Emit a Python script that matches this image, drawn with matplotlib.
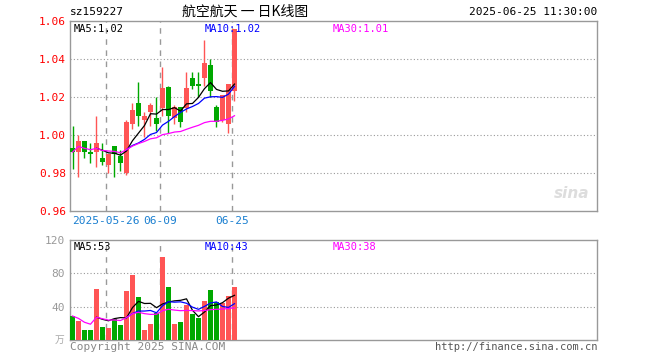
import matplotlib
import matplotlib.pyplot as plt
import numpy as np
import pandas as pd

matplotlib.use("Agg")

# daily bars, sz159227
opens = [0.993, 0.991, 0.997, 0.991, 0.991, 0.988, 0.984, 0.994, 0.989, 0.980,
         1.006, 1.017, 1.008, 1.012, 1.009, 1.014, 1.025, 1.009, 1.015, 1.014,
         1.030, 1.027, 1.030, 1.037, 1.015, 1.008, 1.006, 1.023]
highs = [1.005, 1.000, 0.997, 0.996, 1.010, 0.996, 0.990, 0.994, 0.992, 1.008,
         1.017, 1.028, 1.012, 1.017, 1.020, 1.036, 1.026, 1.016, 1.015, 1.033,
         1.033, 1.033, 1.050, 1.040, 1.016, 1.021, 1.027, 1.056]
lows = [0.982, 0.978, 0.988, 0.985, 0.983, 0.984, 0.980, 0.978, 0.981, 0.979,
        1.003, 1.005, 0.999, 1.005, 1.002, 1.010, 1.001, 1.006, 1.004, 1.012,
        1.024, 1.020, 1.026, 1.020, 1.004, 1.007, 1.001, 1.018]
closes = [0.991, 0.997, 0.991, 0.990, 0.996, 0.986, 0.990, 0.990, 0.985, 1.007,
          1.013, 1.010, 1.010, 1.016, 1.006, 1.025, 1.010, 1.015, 1.007, 1.025,
          1.026, 1.026, 1.038, 1.023, 1.007, 1.021, 1.027, 1.056]
volumes = [28.8, 23, 12, 12, 61, 16, 14.4, 25, 18, 59,
           78, 52, 12, 19, 33, 100, 64, 19, 22, 42,
           31, 26, 47, 60, 46, 45, 53, 64]

date_ticks = [6, 15, 27]
date_labels = ["2025-05-26", "06-09", "06-25"]
price_ticks = [0.96, 0.98, 1.00, 1.02, 1.04, 1.06]
vol_ticks = [40, 80, 120]

RED = "#ff5555"
GREEN = "#00a800"
GRID = "#999999"
MONO = "DejaVu Sans Mono"
CJK = ["Noto Sans CJK SC", "DejaVu Sans"]

df = pd.DataFrame({"open": opens, "high": highs, "low": lows,
                   "close": closes, "vol": volumes})
df["ma5"] = df["close"].rolling(5).mean()
df["ma10"] = df["close"].rolling(10).mean()
df["ma30"] = df["close"].rolling(30, min_periods=1).mean()
df["vma5"] = df["vol"].rolling(5).mean()
df["vma10"] = df["vol"].rolling(10).mean()
df["vma30"] = df["vol"].rolling(30, min_periods=1).mean()

x = np.arange(len(df))
up = df["close"] >= df["open"]
colors = [RED if u else GREEN for u in up]

fig = plt.figure(figsize=(6.6, 3.6), dpi=100)
ax1 = fig.add_axes([70 / 660, 1 - 211 / 360, 527 / 660, 190 / 360])
ax2 = fig.add_axes([70 / 660, 1 - 340 / 360, 527 / 660, 100 / 360])

xlim = (-0.4167, 87.42)


def style_axes(ax):
    for sp in ax.spines.values():
        sp.set_color(GRID)
        sp.set_linewidth(1.0)
    ax.set_xlim(*xlim)
    ax.set_xticks([])
    ax.tick_params(axis="y", length=0)
    for t in date_ticks:
        ax.axvline(t - 0.4167, color=GRID, linestyle=(0, (4, 4)), linewidth=1.0, zorder=0)


# price panel
style_axes(ax1)
ax1.set_ylim(0.96, 1.06)
for v in price_ticks[1:-1]:
    ax1.axhline(v, color=GRID, linestyle=(0, (1, 2)), linewidth=0.8, zorder=0)
ax1.set_yticks(price_ticks)
ax1.set_yticklabels([f"{v:.2f}" for v in price_ticks], color="red",
                    fontsize=8, family=MONO)
ax1.tick_params(axis="y", pad=3)

body_w = 0.83
ax1.vlines(x, df["low"], df["high"], colors=colors, linewidth=1.0, zorder=2)
bottoms = np.minimum(df["open"], df["close"])
heights = np.maximum(np.abs(df["close"] - df["open"]), 0.0004)
ax1.bar(x, heights, bottom=bottoms, width=body_w, color=colors,
        linewidth=0, zorder=3)
ax1.plot(x, df["ma5"], color="black", linewidth=0.9, zorder=4)
ax1.plot(x, df["ma10"], color="blue", linewidth=0.9, zorder=4)
ax1.plot(x, df["ma30"], color="magenta", linewidth=0.9, zorder=4)

ax1.text(0.006, 0.985, "MA5:1.02", transform=ax1.transAxes, va="top",
         fontsize=7.5, family=MONO, color="black")
ax1.text(0.256, 0.985, "MA10:1.02", transform=ax1.transAxes, va="top",
         fontsize=7.5, family=MONO, color="blue")
ax1.text(0.499, 0.985, "MA30:1.01", transform=ax1.transAxes, va="top",
         fontsize=7.5, family=MONO, color="magenta")

for t, lab in zip(date_ticks, date_labels):
    ax1.text(t - 0.4167, -0.053, lab, transform=ax1.get_xaxis_transform(),
             ha="center", va="center", fontsize=8, family=MONO, color="#1a7fd0")

ax1.text(0.985, 0.09, "sina", transform=ax1.transAxes, ha="right", va="center",
         fontsize=11, fontweight="bold", style="italic", color="#dddddd", zorder=1)

# volume panel
style_axes(ax2)
ax2.set_ylim(0, 120)
for v in vol_ticks[:-1]:
    ax2.axhline(v, color=GRID, linestyle=(0, (1, 2)), linewidth=0.8, zorder=0)
ax2.set_yticks(vol_ticks)
ax2.set_yticklabels([str(v) for v in vol_ticks], color="#999999",
                    fontsize=8, family=MONO)
ax2.bar(x, df["vol"], width=body_w, color=colors, linewidth=0, zorder=3)
ax2.plot(x, df["vma5"], color="black", linewidth=0.9, zorder=4)
ax2.plot(x, df["vma10"], color="blue", linewidth=0.9, zorder=4)
ax2.plot(x, df["vma30"], color="magenta", linewidth=0.9, zorder=4)
ax2.text(-0.01, 0.0, "万", transform=ax2.transAxes, ha="right", va="center",
         fontsize=7, family=CJK, color="#aaaaaa")

ax2.text(0.006, 0.975, f"MA5:{int(df['vma5'].iloc[-1])}", transform=ax2.transAxes,
         va="top", fontsize=7.5, family=MONO, color="black")
ax2.text(0.256, 0.975, f"MA10:{int(df['vma10'].iloc[-1])}", transform=ax2.transAxes,
         va="top", fontsize=7.5, family=MONO, color="blue")
ax2.text(0.499, 0.975, f"MA30:{int(df['vma30'].iloc[-1])}", transform=ax2.transAxes,
         va="top", fontsize=7.5, family=MONO, color="magenta")

# header / footer
fig.text(70 / 660, 1 - 12 / 360, "sz159227", ha="left", va="center",
         fontsize=8, family=MONO, color="black")
fig.text(245 / 660, 1 - 12 / 360, "航空航天 一 日K线图", ha="center", va="center",
         fontsize=10, family=CJK, color="black")
fig.text(597 / 660, 1 - 12 / 360, "2025-06-25 11:30:00", ha="right", va="center",
         fontsize=8, family=MONO, color="black")
fig.text(70 / 660, 1 - 347 / 360, "Copyright 2025 SINA.COM", ha="left", va="center",
         fontsize=8, family=MONO, color="#888888")
fig.text(597 / 660, 1 - 347 / 360, "http://finance.sina.com.cn", ha="right", va="center",
         fontsize=7.5, family=MONO, color="#555555")

fig.savefig("out.png", dpi=100)
plt.close(fig)
